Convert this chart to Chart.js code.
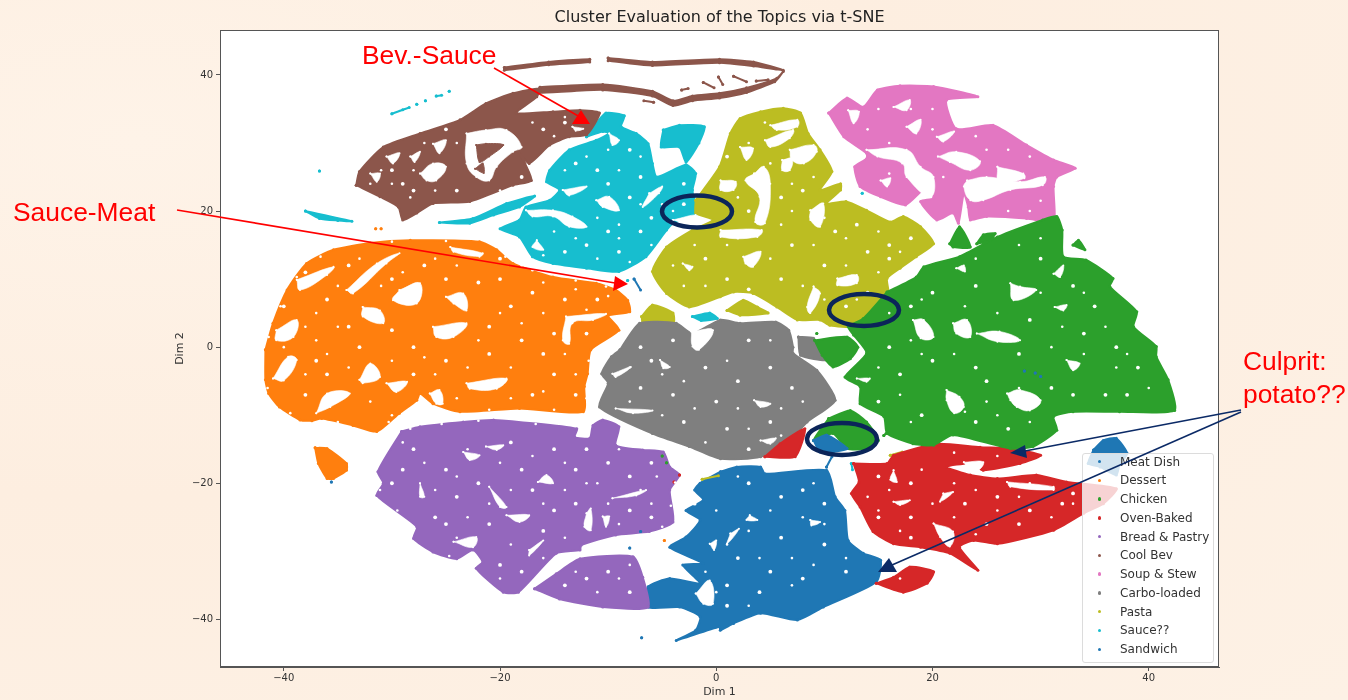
<!DOCTYPE html>
<html><head><meta charset="utf-8">
<script src="https://cdn.jsdelivr.net/npm/chart.js@4"></script>
<style>
html,body{margin:0;padding:0;width:1348px;height:700px;overflow:hidden;background:#fdf0e4}
#bg{position:absolute;inset:0;background:radial-gradient(ellipse at 10% 20%,#fef3e8 0,#fdeee0 45%,#fdf1e5 100%)}
#c{position:absolute;left:0;top:0}
#ov{position:absolute;left:0;top:0;pointer-events:none}
.note{position:absolute;color:#f00;font:26.4px "Liberation Sans",Arial,sans-serif;line-height:33px;white-space:nowrap}
#legend{position:absolute;left:1082px;top:453px;width:130px;height:208px;background:rgba(255,255,255,.8);border:1px solid #dcdcdc;border-radius:3px;box-sizing:content-box}
#legend div{position:absolute;left:37px;font:12px "DejaVu Sans",sans-serif;color:#333;white-space:nowrap;line-height:14px}
#legend i{position:absolute;left:15px;width:3.4px;height:3.4px;border-radius:50%}
</style></head><body>
<div id="bg"></div>
<canvas id="c" width="1348" height="700"></canvas>
<div id="legend"></div>
<svg id="ov" width="1348" height="700">
 <g fill="none" stroke="#0b2559" stroke-width="4.5">
  <ellipse cx="697" cy="211.5" rx="35" ry="16"/><ellipse cx="864" cy="310" rx="35" ry="16"/><ellipse cx="842" cy="439" rx="35" ry="16"/>
 </g>
 <g stroke="#f00" stroke-width="1.6"><line x1="494" y1="68" x2="580" y2="117"/><line x1="177" y1="210" x2="615" y2="283"/></g>
 <g fill="#f00"><polygon points="590,124 581,110 572,124"/><polygon points="628,284 615,276 613,291"/></g>
 <g stroke="#0b2a66" stroke-width="1.6"><line x1="1241" y1="410" x2="1025" y2="451"/><line x1="1241" y1="412" x2="892" y2="565"/></g>
 <g fill="#0b2a66"><polygon points="1010,453 1025,445 1027,458"/><polygon points="878,572 889,558 897,572"/></g>
</svg>
<div class="note" style="left:362px;top:39px">Bev.-Sauce</div>
<div class="note" style="left:13px;top:196px">Sauce-Meat</div>
<div class="note" style="left:1243px;top:345px">Culprit:<br>potato??</div>
<script>
const chartTitle = 'Cluster Evaluation of the Topics via t-SNE';
const xLabel = 'Dim 1', yLabel = 'Dim 2';
const tickStep = 20;
const topicNames = ['Meat Dish','Dessert','Chicken','Oven-Baked','Bread & Pastry','Cool Bev','Soup & Stew','Carbo-loaded','Pasta','Sauce??','Sandwich'];
const topicColors = ['#1f77b4','#ff7f0e','#2ca02c','#d62728','#9467bd','#8c564b','#e377c2','#7f7f7f','#bcbd22','#17becf','#1f77b4'];

const meatDish = [
 [[34.9,-15.1],[35.8,-13.7],[37,-13.4],[38,-15.6],[37.3,-17.3],[37,-18.8],[35.5,-17.6],[34.4,-17.1]],
 [[9,-13.7],[10.2,-12.9],[12.1,-14.9],[10.8,-15.4],[9.6,-15.4]],
 [[10.2,-17.6],[10.7,-16.1]],
 [[-7.6,10],[-7,8.4]],
 [[-35.6,-19.8]],[[-7,-27.1]],[[-8,-29.5]],[[28.5,-3.5]],[[29.5,-3.8]],[[30,-4.3]]
];
const dessert = [
 [[-41.7,-.4],[-41,3.5],[-39.7,8.4],[-37.9,12.3],[-35.4,14.3],[-32,15.3],[-28.3,15.7],[-21.9,15.5],[-20.3,14.3],[-18.8,12.3],[-15.1,10.3],[-11.1,9.4],[-9.3,8.4],[-8.2,6.9],[-8,5.2],[-10,4.6],[-9,2.5],[-11.6,-.4],[-11.9,-3.9],[-12.2,-5.8],[-12.3,-9.5],[-18.2,-9],[-23.7,-9.5],[-26.2,-8.3],[-27.4,-6.8],[-27.7,-7.8],[-29.3,-9.7],[-31.4,-12.4],[-33.6,-11.5],[-36.5,-10.5],[-37.4,-10.8],[-38.5,-10.7],[-40.4,-8.8],[-41.4,-6.8],[-41.7,-4.8]],
 [[-37.1,-14.8],[-36,-14.9],[-34.2,-17.1],[-34.2,-18.1],[-35.4,-19.3],[-36,-19.3],[-36.8,-17.1]],
 [[-31.5,17.4]],[[-31,17.4]],[[-4.8,-28.4]]
];
const chicken = [
 [[15.8,8.1],[18.5,10.3],[19.2,11.8],[22.5,13.3],[26,16.2],[30.2,18.7],[31.5,19.2],[32,17.2],[32.1,13.3],[34.2,12.8],[36.7,10.1],[36.4,8.9],[38.9,5.2],[38.6,3],[40.7,.1],[40.7,-1.4],[41.8,-4.8],[42.4,-9.3],[37.3,-9.5],[33,-9.5],[31.2,-10.2],[31.5,-12.2],[29.3,-14.6],[27.2,-14.9],[21.9,-12.9],[20.1,-14.4],[18.2,-14.2],[15.8,-12.7],[15.5,-10.2],[13.3,-8.3],[13.3,-5.8],[11.9,-4.4],[13.9,-.9],[12.7,1.8],[12.2,3],[13.6,4.2]],
 [[9.1,1],[12.1,1.5],[13.1,0],[12.4,-1.7],[10.8,-2.9],[9.8,-1.2]],
 [[10.4,-10.5],[12.4,-9.3],[13.9,-11],[15,-13.7],[13.9,-14.9],[12.1,-14.9],[10.8,-12.7],[9,-13.7]],
 [[21.6,15.2],[22.5,17.7],[23.5,14.7],[21.9,14.7]],
 [[24.1,15.2],[24.7,16.5],[25.8,16.7],[25.3,15.7]],
 [[33,15],[33.5,15.7],[34.1,14.3]],
 [[15.5,-13],[15.7,-12.7]],[[9.3,2]],[[-5,-16]],[[-4.6,-17]]
];
const ovenBaked = [
 [[12.7,-17.1],[15.8,-17.1],[16.4,-15.9],[20.4,-14.2],[24.4,-14.7],[27.2,-14.9],[30,-15.9],[28.1,-17.1],[24.7,-18.1],[23.5,-17.1],[21.3,-17.6],[23.5,-18.8],[26,-19.3],[29.6,-18.8],[32.4,-19.8],[37,-20.8],[35.8,-23],[34,-24.4],[31.2,-26.9],[26,-28.9],[23.8,-28.4],[22.5,-29.4],[24.2,-32.8],[21.6,-30.3],[18.9,-29.4],[16.4,-28.9],[14.5,-27.1],[13.3,-23.5],[12.5,-21.5],[13.2,-19.8]],
 [[14.8,-34.7],[16.4,-33.8],[17.9,-32.3],[20.1,-33],[19.5,-34.7],[17.3,-36]],
 [[4.5,-16.1],[5.9,-14.2],[8.2,-12],[7.3,-16.1]],
 [[-3.4,-18.8]],[[-3.9,-19.8]]
];
const breadPastry = [
 [[-29.1,-12.4],[-27.4,-11.7],[-23.4,-11],[-20.6,-10.7],[-12.9,-12],[-13.1,-13.2],[-11.7,-13.4],[-11.4,-11.5],[-10.5,-10.7],[-9,-11.7],[-9.3,-14.4],[-6.8,-15.1],[-4.9,-15.4],[-4.3,-17.6],[-3.4,-18.8],[-4.3,-21],[-4,-25.7],[-6.2,-27.1],[-9.3,-27.6],[-12.5,-29.1],[-12.6,-29.8],[-14.8,-30.3],[-18.3,-36],[-19.7,-36],[-22.2,-32.5],[-21.6,-31.6],[-22.5,-29.8],[-24,-31.1],[-26.2,-30.1],[-28,-28.1],[-27.7,-26.4],[-31.4,-21.8],[-30.8,-20],[-31.3,-18.3]],
 [[-16.8,-35.5],[-14.8,-33.3],[-12.6,-31.1],[-7.7,-30.8],[-6.8,-33.8],[-6.3,-38.2],[-10.5,-38.2],[-14.5,-37]],
 [[12.8,-21.6]]
];
const coolBev = [
 [[-33.3,23.8],[-33,25.8],[-30.8,29.4],[-27.4,31.4],[-23.7,33.4],[-21.3,35.8],[-18.8,37.3],[-16.3,38],[-16.6,36.8],[-18.5,34.4],[-15.1,34.6],[-12.6,34.8],[-10.8,34.4],[-12,31.2],[-13.6,30.9],[-15.4,29.7],[-17.3,27],[-18.2,28.5],[-17.7,27],[-17.1,24.5],[-18.8,23.8],[-22.8,21.4],[-26.2,21.1],[-27.7,19.7],[-29,18.7],[-29.4,20.6],[-31.1,22.1]],
 [[-19.6,41.1],[-15.5,41.9],[-11.7,42.3],[-11.7,41.9],[-15.5,41.5],[-19.6,40.7]],
 [[-10,42.5],[-5.9,41.9],[.3,42.3],[3.45,41.9],[6.2,40.7],[3.45,41.3],[.3,41.8],[-5.9,41.4],[-10,42.1]],
 [[-16.3,38.2],[-10.5,38.6],[-5.9,37.6],[-4,36.2],[-2.2,36.9],[.3,37.3],[2.8,38.1],[5.6,39.5],[6.2,40.5],[5.4,39],[2.8,37.4],[.3,36.6],[-2.2,36.2],[-4,35.5],[-5.9,36.9],[-10.5,37.8],[-16.3,37.4]],
 [[.2,39.7],[.6,38.6]],[[-1.2,38.9],[-.2,38.1]],[[-3.2,37.8],[-2.6,38]],[[1.6,39.8],[2.8,39]],[[3.7,39.1],[4.8,39.3]],
 [[-5.8,36],[-6.7,36.2]],[[-19.5,-18.8]]
];
const coolBevIslands = [
 [[-22.2,29.7],[-21.3,29.9],[-19.7,29.7],[-21,28],[-21.9,27.2]],[[-22.3,26.2],[-21.6,27],[-21.5,25.6]]
];
const soupStew = [
 [[10.4,34.4],[12.1,36.6],[13.6,35.3],[14.9,37.8],[17,38.4],[20.1,38.3],[24.2,36.8],[21.3,36.3],[22.2,32.1],[25.6,32.6],[28.7,29.7],[31.2,27.5],[33.2,26.3],[31.5,25],[31.2,23.6],[31.3,19.2],[30.9,18.4],[28.7,18.9],[25,19.2],[23.5,18.7],[23.3,20.6],[22.9,22.6],[22.4,18.2],[21.9,19.7],[20.4,18.7],[18.9,21.4],[20.1,21.9],[19.5,23.6],[17.5,20.9],[15.2,22.1],[13.3,23.6],[12.8,26.5],[13.9,27.7],[13.9,28.5],[11.8,30.9]]
];
const carboLoaded = [
 [[-8.9,-.4],[-7.1,3.5],[-3.7,3.5],[-2.2,2],[.37,4],[2.2,3.5],[5.5,3.7],[6.7,2.5],[7.1,0],[7.1,-.9],[9.3,-3.4],[11,-7.8],[8.4,-11],[7,-13.4],[4.1,-16.1],[.4,-16.4],[-2.5,-14.6],[-5.9,-12.7],[-10.8,-8.8],[-10,-5.3],[-10.6,-3.9],[-9.7,-1.4]],
 [[7.6,1.5],[9,1.3],[9.6,-.4],[10.2,-1.9],[7.8,-1.2]]
];
const pasta = [
 [[-1.9,21.6],[.3,26.5],[1.3,31.4],[2.2,33.6],[4.1,34.6],[6.2,35.1],[7.8,34.4],[8.5,31.4],[9.6,29],[10.7,25.8],[9.6,23.1],[11.5,24],[11.5,23.1],[10.2,21.1],[12,21.4],[13.9,20.1],[16.1,18.4],[17.3,19.2],[18.9,17.7],[20.1,15.2],[18.5,13.3],[17,11.6],[15.8,10.1],[15.9,7.9],[13.9,4.5],[12.7,3],[10.5,3.2],[9.6,4],[7.5,4],[5.6,5.9],[3.4,7.9],[1.6,8.1],[.37,7.4],[-2.5,5.9],[-4.6,7.9],[-5.9,11.1],[-4.6,14.7],[-2.2,17.2],[-.3,18.7],[-1.9,19.7]],
 [[1,5.4],[2.5,6.9],[3.8,5.9],[4.8,5],[2.2,4.7]],
 [[-6.9,4.5],[-5.9,6.2],[-4,5],[-4,3.2],[-6.8,3.7]],
 [[16.1,-15.9],[17.2,-15.4],[18.5,-15.9],[17.6,-16.4]],
 [[-11.2,-24.2],[-10,-23.8]],[[6,-2.7],[6.8,-2.7]],[[36,-4.3],[37.3,-4.9]],[[-1.3,-19.4],[.2,-18.9]]
];
const sauce = [
 [[-12,30.9],[-11.1,32.9],[-10.2,34.4],[-8.5,34],[-8.8,32.4],[-7.4,31.4],[-6.3,29.9],[-5.9,27],[-5.5,25],[-2.8,26.8],[-1.9,25.5],[-2.2,23.1],[-2,21.6],[-1.5,20.1],[-2.2,19.2],[-4,18.2],[-4.6,17.2],[-6.5,13.3],[-9,11.1],[-12,11.6],[-15.1,12.3],[-17,13.3],[-18.2,16.2],[-20,17.4],[-18.2,18.7],[-17.6,20.6],[-15.4,21.6],[-14.5,23.1],[-15.7,24.3],[-15.4,26],[-13.6,29],[-11.1,30.4],[-9.9,31.4],[-10.5,31.7]],
 [[-25.6,18.3],[-22.5,18.9],[-19.4,21.1],[-16.8,22.2],[-18.2,20.6],[-20.6,19.4],[-22.8,18.2]],
 [[-4.9,31.9],[-3.4,32.6],[-1.1,32.4],[-1.6,30],[-2.8,27.2],[-3.4,29.4],[-5.1,29.4]],
 [[-30,34.3],[-29,34.9],[-28.4,35.2]],[[-27.7,35.7]],[[-26.9,36.2]],[[-25.9,36.9],[-25.4,37]],[[-24.7,37.6]],
 [[-38,20],[-36.7,18.9],[-35,18.6],[-33.7,18.5]],
 [[-36.7,25.9]],[[-8.2,9.8]],
 [[-2.2,4.5],[-.6,5],[.1,4.2],[-1.4,3.9]],
 [[12.5,-17.1],[12.6,-18]],[[8.4,19.2]],[[13.5,22.6]],[[26.2,-.8],[26.6,-1.2]],[[33.9,-1.3]]
];
const sandwich = [
 [[.4,-18.3],[1.9,-17.6],[4.1,-17.6],[4.5,-18.6],[10.2,-18.1],[11,-22],[11.9,-24],[12.2,-28.4],[13.6,-30.3],[15.2,-31.3],[14.8,-34.5],[9.9,-38.2],[7.5,-40.1],[4.1,-39.1],[1.6,-40.6],[.37,-41.6],[.3,-41.1],[-3.7,-43.1],[-1.9,-41.6],[-1.5,-39.6],[-3.4,-38.2],[-6.3,-38.2],[-6.3,-35.2],[-4.3,-34],[-1.5,-34.7],[-3.1,-32],[-1.2,-31.8],[-4.3,-29.4],[-2.8,-27.9],[-1.5,-25.4],[-2.8,-24],[-1.2,-22.5],[-2,-21],[-1.5,-20]],
 [[-6.9,-42.7]]
];

/* white gaps left open between the points of each cluster */
const clusterGaps = [
 [[-13.9,4.5],[-10.2,4.9],[-11.4,4],[-13.3,3.5],[-13.6,.5],[-14.2,1]],
 [[-29.3,8.4],[-27.4,9.4],[-27.7,6.4],[-29.9,6.9]],[[-25,7.4],[-23.4,7.9],[-23.1,5.4],[-24.3,6.4]],
 [[-26.2,3],[-23.1,3.5],[-24.3,1.5],[-25.9,1.5]],[[-32.7,5.9],[-31.1,5.4],[-30.8,3.5],[-32.7,4.5]],
 [[-38.8,9.9],[-35.4,11.8],[-36,10.6],[-38.5,8.4]],[[-40.7,2.5],[-38.8,4],[-39.1,1.5],[-40.7,1]],
 [[-34.2,8.4],[-31.4,12.3],[-29.3,13.8],[-30.5,12.3],[-33.6,7.9]],[[-24.6,14.7],[-21.6,13.8],[-21.9,13.3],[-24.3,14]],
 [[-41,-4.6],[-39.6,-1.4],[-38.8,-1.9],[-40,-4.9]],[[-33,-4.8],[-32,-2.4],[-31.1,-4.4],[-32.7,-5.3]],
 [[-37,-9.7],[-36,-6.8],[-33.9,-6.8],[-35.7,-8.8]],[[-23.1,-5.3],[-19.4,-4.6],[-20.3,-6.1],[-22.8,-6.1]],
 [[-30.5,-5.3],[-28.6,-5.1],[-29.6,-6.6]],[[-26.5,-6.8],[-25.6,-6.3],[-25.3,-8.3],[-25.9,-8.3]],
 [[6.8,29],[9,29.7],[9.3,28.7],[8.1,27],[7,27.5]],[[3.5,25.5],[4.4,26.5],[5,24],[4.5,18.2],[3.6,18.4],[4,22.1],[2.7,24.5]],
 [[.4,24.5],[1.8,24.3],[1.6,23.1],[.4,23.1]],[[2.2,29.4],[3.4,29.2],[2.8,27.5]],[[5,32.6],[7.5,33.4],[7.5,32.4],[5.6,31.9]],
 [[4.5,30.4],[7.1,31.9],[6.8,30.7],[5,29.4]],[[6.1,27.5],[7,27.7],[6.8,26],[6.1,26]],[[11.2,10.1],[13,10.6],[13,9.4],[11.2,9.1]],
 [[9,8.9],[9.6,7.9],[8.7,5],[8.4,5.9]],[[8.7,20.1],[9.9,21.1],[9.6,17.7],[8.7,18.7]],[[2.5,13.3],[4.1,14],[3.4,11.8],[2.7,12.3]],
 [[.4,17.2],[4.2,17.2],[3.8,16.2],[.4,16.2]],[[-3.1,12.3],[-2.2,11.8],[-2.5,11.3]],
 [[-14.2,23.1],[-12,23.6],[-13.6,22.3]],[[-17.6,20.1],[-15.1,20.1],[-13.3,19.2],[-12,17.7],[-13.6,17.7],[-15.1,19.2],[-17,19.2]],
 [[-11.1,21.6],[-9.9,22.1],[-9,20.1],[-10.5,20.6]],[[-6.2,22.6],[-5,23.6],[-5.3,22.6],[-6.8,20.6]],
 [[-9.9,31.4],[-9,30.4],[-9.6,29.7]],[[-4,18.7],[-1.9,19.4],[-2.8,18.3]],[[-16.6,15.7],[-16,14.3],[-17,14.7]],
 [[-23.1,31.4],[-21.3,31.9],[-19.4,31.9],[-18,29.4],[-18.8,28.7],[-20.3,26.5],[-21,24.5],[-22.2,25],[-23.1,27]],
 [[-27.4,25.5],[-26.2,27],[-25,26.5],[-25.9,24.5],[-26.8,24.5]],[[-30.5,28],[-29.3,28.5],[-29.9,27]],[[-32,25.5],[-31.1,25.5],[-31.4,24.3]],
 [[-28.3,28],[-27.4,28.7],[-27.9,27.2]],[[-26.2,29.9],[-25,30.4],[-25.6,28.5]],[[-13.3,32.4],[-12.3,32.1],[-13,31.8]],
 [[18.2,4],[19.2,4],[20.1,1.5],[18.9,1.3]],[[21.9,3.5],[23.2,4],[23.5,1.5],[22.2,2]],[[27.2,9.4],[28.1,8.9],[29.6,8.4],[27.5,6.9]],
 [[24.1,2],[26.2,2.3],[28.1,1],[26,.8]],[[31.2,10.8],[32.1,12],[31.8,10.3]],[[31.3,5.9],[32.4,6.2],[32.1,5.4]],[[22.2,11.6],[22.9,12],[23,11.1]],
 [[21.3,-6.3],[22.5,-7.3],[22.9,-8.8],[22,-9.7],[21.3,-7.8]],[[26.9,-6.8],[28.1,-6.3],[30,-7.8],[29,-9.3],[27.8,-8.8],[27.2,-7.8]],
 [[32.4,-1.9],[33.6,-2.4],[33,-3.4]],[[13,-4.6],[14.2,-4.6],[13.9,-5.1]],
 [[3.5,-7.8],[5,-8.3],[4.1,-8.8]],[[4.1,-13.7],[5.5,-13.4],[5,-14.2]],[[-9.6,-3.9],[-7.9,-2.9],[-9.3,-4.4]],[[-9.3,-9],[-5.9,-9.3],[-7.7,-9.7]],
 [[-5.2,-1.9],[-4.3,-2.9],[-4.9,-3.1]],[[-2.3,2.3],[-.3,2.5],[-1.6,-.4],[-2.2,.1]],
 [[-23.4,-15.4],[-21.9,-15.9],[-22.8,-16.6]],[[-21.3,-14.6],[-19.7,-14.4],[-20.3,-15.1]],[[-16.5,-19.8],[-15.7,-18.8],[-15.1,-20]],
 [[-27.4,-20],[-27,-22],[-27.4,-22]],[[-21,-20.5],[-19.4,-23.5],[-20,-23.5]],[[-19.4,-24.7],[-17.3,-24.7],[-18.2,-25.7]],
 [[-9.6,-22.2],[-6.5,-21],[-7.4,-21.8]],[[-12,-24.4],[-11.6,-23.7],[-11.6,-26.9],[-12.2,-26.4]],[[-24.3,-28.6],[-22.2,-27.9],[-22.5,-29.4]],
 [[-17.3,-29.8],[-16,-28.4],[-17.3,-30.6]],[[-10.5,-24.9],[-9.9,-24.9],[-10.2,-26.4]],
 [[3.1,-24.7],[3.8,-25.4],[2.8,-25.4]],[[1.3,-27.4],[2.1,-26.7],[1,-28.9]],[[8.7,-25.4],[9.6,-25.7],[8.8,-26.2]],
 [[-1.9,-36.2],[-.6,-34.3],[-.3,-37.7],[-1.2,-37.7]],[[-.6,-28.9],[0,-28.4],[-.2,-29.8]],
 [[16.4,-18.1],[16.7,-19.8],[16.1,-19.5]],[[21,-21.5],[21.9,-21.3],[20.7,-22.7]],[[16.4,-22.7],[17.9,-22.5],[17,-23.2]],
 [[20.1,-25.9],[21.9,-27.1],[21.6,-29.3],[20.7,-27.9]],[[26.9,-19.8],[31.2,-20.5],[31.2,-21],[27.2,-20.5]],[[22.9,-16.9],[24.7,-16.9],[24,-18.3],[23.2,-17.6]],
 [[13.9,29],[17.6,29],[18.9,26.5],[20.1,25],[19.8,22.1],[17.6,25],[17.2,27],[14.9,28]],[[20.5,28],[22.2,28.7],[24.4,27.3],[23.5,26],[21.6,27.2]],
 [[26,26.5],[28.4,25.5],[28.5,24.8],[26.2,24.3]],[[23.2,24.5],[25,25],[28.1,24.3],[30.4,25],[30.2,23.8],[27.2,23.1],[24.7,21.6],[23.5,21.6],[22.9,23.6]],
 [[17.6,32.4],[18.9,33.4],[18.5,31.4]],[[20.4,30.9],[22,31.7],[21,30.2]],[[16.4,35.3],[17.9,36.3],[17.6,34.8]],[[12.2,34.8],[13.2,34.6],[12.7,32.9]],[[15.2,24.5],[16.1,24.8],[15.8,23.6]]
];
const whiteSpecks = [
 [-38,11],[-36,7],[-34,3],[-30,10],[-27,12],[-25,10],[-20,10],[-17,8],[-14,7],[-11,7],[-21,3],[-18,1],[-16,-1],[-28,0],[-33,0],[-37,-2],[-36,-4],[-25,-2],[-21,-1],[-15,-4],[-13,-7],[-17,-7],[-28,-4],[-40,6],[-30,2.5],[-19,6],[-22,9.5],[-12,2],[-38,-7],[-34,12],[-20,13],[-15,2],
 [-28,-15],[-25,-18],[-29,-18],[-24,-22],[-26,-25],[-21,-26],[-22,-20],[-18,-18],[-15,-15],[-13,-18],[-10,-17],[-8,-19],[-6,-17],[-13,-23],[-15,-24],[-8,-24],[-6,-25],[-17,-21],[-19,-14],[-12,-15],[-20,-32],[-18,-33],[-10,-33],[-12,-34],[-8,-36],[-14,-35],[-25,-26],[-30,-20],[-16,-27],
 [-13,27],[-11,26],[-8,29],[-10,24],[-7,25],[-12,15],[-9,14],[-7,17],[-14,14],[-10,17],[-6,19],[-3,24],[-8,22],[-3,21],
 [-30,26],[-28,23],[-24,23],[-16,32],[-14,33],[-18,25],[-25,32],[-29,24],
 [3,20],[7,15],[6,10],[10,12],[14,14],[16,15],[18,16],[11,17],[13,18],[1,10],[-1,13],[3,8.5],[8,23],[6,22],[1,28],[14,8],[16,13],[12,6],
 [-7,0],[-4,1],[-1,-3],[3,1],[5,-3],[2,-5],[-4,-7],[-7,-6],[-3,-11],[1,-12],[5,-11],[7,-6],[0,-8],[-6,-2],[3,-15],
 [20,8],[18,6],[24,9],[30,13],[33,9],[35,6],[34,2],[37,0],[39,-3],[36,-7],[31,-6],[25,-5],[20,-2],[17,-4],[16,0],[24,-3],[28,-1],[19,-10],[24,-11],[27,-12],[33,-7],[38,-7],[15,-8],[29,4],
 [3,-20],[6,-22],[8,-21],[2,-31],[5,-33],[8,-34],[10,-29],[12,-33],[6,-28],[1,-35],[4,-36],[-2,-23],[10,-23],[1,-38],
 [15,-19],[18,-20],[23,-23],[26,-22],[29,-24],[32,-23],[18,-25],[25,-26],[15,-25],[18,-28],[33,-21.5],[28,-26]
];
const fineSpecks = [
 [-40,0],[-39.5,-3],[-38,3],[-37,5],[-35,9],[-33,13],[-31,9],[-29,11],[-26,13],[-24,12],[-18,12],[-16,9.5],[-13,8.5],[-10,7.5],[-12,5.5],[-16,5],[-18,3.5],[-20,5],[-22,1],[-27,-1.5],[-30,-2],[-34,-3],[-36,-1],[-38,-4],[-23,-3],[-19,-3],[-14,-1],[-13,-4],[-16,-6.5],[-19,-7.5],[-24,-7.5],[-32,-8],[-30,-10],[-35,3],[-37,1],[-26,-4],
 [-40.3,6],[-38.8,10.3],[-36.6,13.3],[-30,15.5],[-25,15.6],[-19.5,13.3],[-17,11.3],[-13,9.8],[-10.2,8.9],[-11.8,-2],[-12,-7.5],[-15,-9.2],[-21,-9.2],[-30.3,-11],[-35,-11],[-39.4,-9.7],[-41.5,-6],[-41.4,1.5],
 [-28.3,-12],[-25.4,-11.3],[-22,-10.8],[-16.7,-11.3],[-3.8,-19.9],[-4.2,-23.3],[-5,-26.4],[-24.7,-30.7],[-29.5,-24],[-31.1,-21],
 [-29,-14],[-27,-17],[-26,-21],[-23,-15],[-24,-19],[-20,-17],[-19,-21],[-17,-16],[-14,-17],[-11,-20],[-9,-15],[-7,-21],[-6,-23],[-10,-23],[-14,-21],[-16,-23],[-12,-20],[-23,-25],[-21,-23],[-24,-28],[-19,-29],[-20,-34],[-16,-31],[-14,-28],[-9,-26],[-5.5,-19],[-11,-36],[-9,-34],[-13,-33],[-8,-32],
 [-32,24],[-30,24],[-28,26],[-26,23],[-23,28],[-24,30],[-20,23],[-17,33],[-15,31],[-12,33],[-31,26],[-27,30],[-28.3,22],[-14,33.8],
 [-15,17],[-16,13.5],[-13,16],[-11,19],[-9,16],[-7,21],[-5,21],[-4,20],[-12,28],[-9,26],[-7,28],[-14,26],[-10,29],[-9,18],[-8,12.5],[-6,15],[-11,13],
 [1,15],[-1,9],[-3,9],[-4,12],[-2,15],[2,22],[3,30],[5,27],[7,24],[9,25],[2,16],[5,13],[8,9],[10,7],[13,7],[15,11],[12,12],[9,15],[12,16],[15,17],[17,14],[6,18],[7,20],[10,19],[4.5,33],
 [15,35],[18,35],[20,35],[16,30],[14,32],[20,32],[24,31],[27,29],[29,28],[25,29],[21,25],[25,23],[27,20],[29,20],[30,21.5],[19,20],[16,25.5],
 [16,5],[19,7],[23,6],[26,5],[30,8],[32,3],[34,-1],[36,3],[38,-1],[40,-6],[37,-3],[31,0],[28,-6],[25,-8],[19,-1],[22,-1],[15,-3],[17,-7],[18,-11],[23,-9.5],[26,-10],[29,-11],[24,13],[28,15],[30,16],[34,8],[18,1],
 [-8,-3],[-5,-4],[-2,0],[1,-2],[5,1],[-3,-5],[2,-9],[-2,-9],[6,-9],[8,-8],[3,-12],[-8,-8],[-5,-10],[6,-13],[-1,-14],
 [2,-19],[5,-24],[8,-25],[10,-26],[0,-24],[3,-27],[7,-31],[9,-32],[12,-31],[1,-29],[4,-31],[7,-35],[3,-38],[-1,-33],[-2,-26],[0,-36],[9,-20],
 [14,-22],[16,-21],[19,-18],[22,-20],[24,-21],[28,-22],[31,-25],[26,-24],[22,-25],[20,-23],[17,-27],[15,-24],[19,-31],[29,-20],[33,-23],[24,-27.5],[17,-34],[26,-16],[22,-15.5]
];

function track(polys){
  const out=[];
  polys.forEach(p=>{p.forEach(q=>out.push({x:q[0],y:q[1]}));out.push({x:p[0][0],y:p[0][1]});out.push({x:null,y:null});});
  return out;
}
const topicData=[meatDish,dessert,chicken,ovenBaked,breadPastry,coolBev,soupStew,carboLoaded,pasta,sauce,sandwich];
const datasets=topicNames.map((n,i)=>({
  label:n,data:track(topicData[i]),showLine:true,spanGaps:false,fill:'shape',tension:.2,
  backgroundColor:topicColors[i],borderColor:topicColors[i],borderWidth:2,
  pointRadius:1.5,pointBorderWidth:0,pointBackgroundColor:topicColors[i],order:i
}));
datasets.push({label:'gaps',data:track(clusterGaps),showLine:true,spanGaps:false,fill:'shape',tension:.45,
  backgroundColor:'#fff',borderColor:'#fff',borderWidth:.6,pointRadius:1,pointBorderWidth:0,pointBackgroundColor:'#fff',order:-1});
datasets.push({label:'specks',data:whiteSpecks.map(q=>({x:q[0],y:q[1]})),showLine:false,
  backgroundColor:'#fff',pointRadius:1.9,pointBorderWidth:0,order:-2});
datasets.push({label:'fine specks',data:fineSpecks.map(q=>({x:q[0],y:q[1]})),showLine:false,
  backgroundColor:'#fff',pointRadius:1.3,pointBorderWidth:0,order:-2});
datasets.push({label:'Cool Bev islands',data:track(coolBevIslands),showLine:true,spanGaps:false,fill:'shape',tension:.3,
  backgroundColor:topicColors[5],borderColor:topicColors[5],borderWidth:1,pointRadius:1,pointBorderWidth:0,pointBackgroundColor:topicColors[5],order:-3});

const frame={id:'frame',
  beforeDraw(ch){const a=ch.chartArea,c=ch.ctx;c.save();c.fillStyle='#fff';c.fillRect(a.left,a.top,a.width,a.height);c.restore();},
  afterDatasetsDraw(ch){const a=ch.chartArea,c=ch.ctx;c.save();c.strokeStyle='#555';c.lineWidth=1;c.strokeRect(a.left+.5,a.top+.5,a.width-1,a.height-1);c.restore();}
};
const signedTick=v=>String(v).replace('-','\u2212');
Chart.defaults.font.family='"DejaVu Sans",sans-serif';
new Chart(document.getElementById('c'),{
  type:'scatter',data:{datasets},plugins:[frame],
  options:{responsive:false,animation:false,devicePixelRatio:1,
    layout:{padding:{left:172,right:129,top:0,bottom:0}},
    plugins:{legend:{display:false},tooltip:{enabled:false},
      title:{display:true,text:chartTitle,fullSize:false,color:'#222',font:{size:16,weight:'normal'},padding:{top:8,bottom:2.8}}},
    scales:{
      x:{type:'linear',min:-45.9,max:46.5,afterFit(s){s.height=33;},
        ticks:{stepSize:tickStep,includeBounds:false,color:'#333',font:{size:10},maxRotation:0,padding:1,callback:signedTick},
        grid:{drawOnChartArea:false,drawTicks:true,tickLength:4,color:'#555'},border:{color:'#555'},
        title:{display:true,text:xLabel,color:'#333',font:{size:11},padding:{top:0,bottom:1}}},
      y:{type:'linear',min:-47,max:46.6,afterFit(s){s.width=48;},
        ticks:{stepSize:tickStep,includeBounds:false,color:'#333',font:{size:10},padding:3,callback:signedTick},
        grid:{drawOnChartArea:false,drawTicks:true,tickLength:4,color:'#555'},border:{color:'#555'},
        title:{display:true,text:yLabel,color:'#333',font:{size:11},padding:{top:2,bottom:0}}}
    }}
});
const lg=document.getElementById('legend');
topicNames.forEach((n,i)=>{
  const top=7.5+i*18.77;
  const m=document.createElement('i');m.style.top=(top-1.7)+'px';m.style.background=topicColors[i];lg.appendChild(m);
  const t=document.createElement('div');t.textContent=n;t.style.top=(top-7)+'px';lg.appendChild(t);
});
</script>
</body></html>
